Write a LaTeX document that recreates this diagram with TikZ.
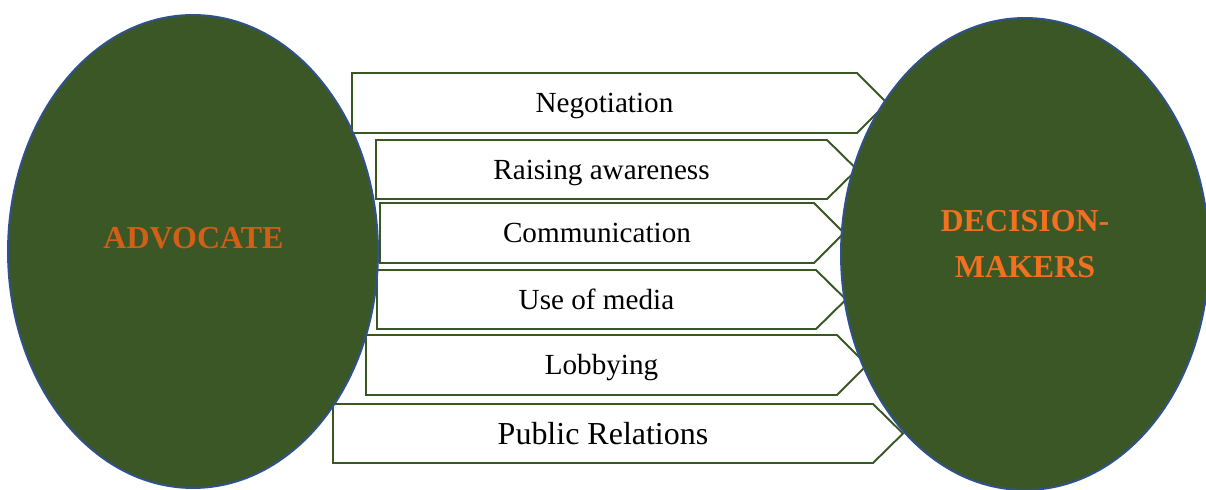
\documentclass[tikz,border=0pt]{standalone}
\usepackage{fontspec}
\setmainfont{Liberation Serif}
\usepackage{tikz}
\usetikzlibrary{positioning}

\definecolor{hubgreen}{RGB}{59,87,38}
\definecolor{hubblue}{RGB}{47,82,143}
\definecolor{signgreen}{RGB}{56,87,35}
\definecolor{advorange}{RGB}{210,94,24}
\definecolor{dmorange}{RGB}{242,112,32}

\begin{document}
\begin{tikzpicture}[scale=1,
    sign/.style={draw=signgreen, line width=1.1pt, fill=white, line join=miter},
    hub/.style={draw=hubblue, line width=1.1pt, fill=hubgreen},
    lbl/.style={font=\fontsize{16.6}{20}\selectfont, text height=11pt, text depth=0pt, inner sep=0pt},
    hublbl/.style={font=\fontsize{18.2}{26.2}\selectfont\bfseries, inner sep=0pt}]
  \clip (0,0) rectangle (24.12,9.78);

  \draw[sign] (7.04,8.32) -- (17.14,8.32) -- (17.74,7.72) -- (17.14,7.12) -- (7.04,7.12) -- cycle;
  \draw[sign] (7.52,6.98) -- (16.54,6.98) -- (17.14,6.39) -- (16.54,5.80) -- (7.52,5.80) -- cycle;
  \draw[sign] (7.60,5.72) -- (16.28,5.72) -- (16.88,5.12) -- (16.28,4.52) -- (7.60,4.52) -- cycle;
  \draw[sign] (7.54,4.38) -- (16.32,4.38) -- (16.92,3.79) -- (16.32,3.20) -- (7.54,3.20) -- cycle;
  \draw[sign] (7.32,3.08) -- (16.74,3.08) -- (17.34,2.48) -- (16.74,1.88) -- (7.32,1.88) -- cycle;
  \draw[sign] (6.66,1.70) -- (17.46,1.70) -- (18.06,1.11) -- (17.46,0.52) -- (6.66,0.52) -- cycle;

  \node[lbl] (negotiation) at (12.09,7.72) {Negotiation};
  \node[lbl] (awareness) at (12.03,6.39) {Raising awareness};
  \node[lbl] (communication) at (11.94,5.12) {Communication};
  \node[lbl] (media) at (11.93,3.79) {Use of media};
  \node[lbl] (lobbying) at (12.03,2.48) {Lobbying};
  \node[lbl, font=\fontsize{18.2}{22}\selectfont, text height=12pt] (relations) at (12.06,1.11) {Public Relations};

  \draw[hub] (3.86,4.75) ellipse (3.70cm and 4.73cm);
  \draw[hub] (20.50,4.70) ellipse (3.68cm and 4.72cm);

  \node[hublbl, text=advorange] (advocate) at (3.87,5.02) {ADVOCATE};
  \node[hublbl, text=dmorange, align=center] (makers) at (20.50,4.90) {DECISION-\\MAKERS};
\end{tikzpicture}
\end{document}
